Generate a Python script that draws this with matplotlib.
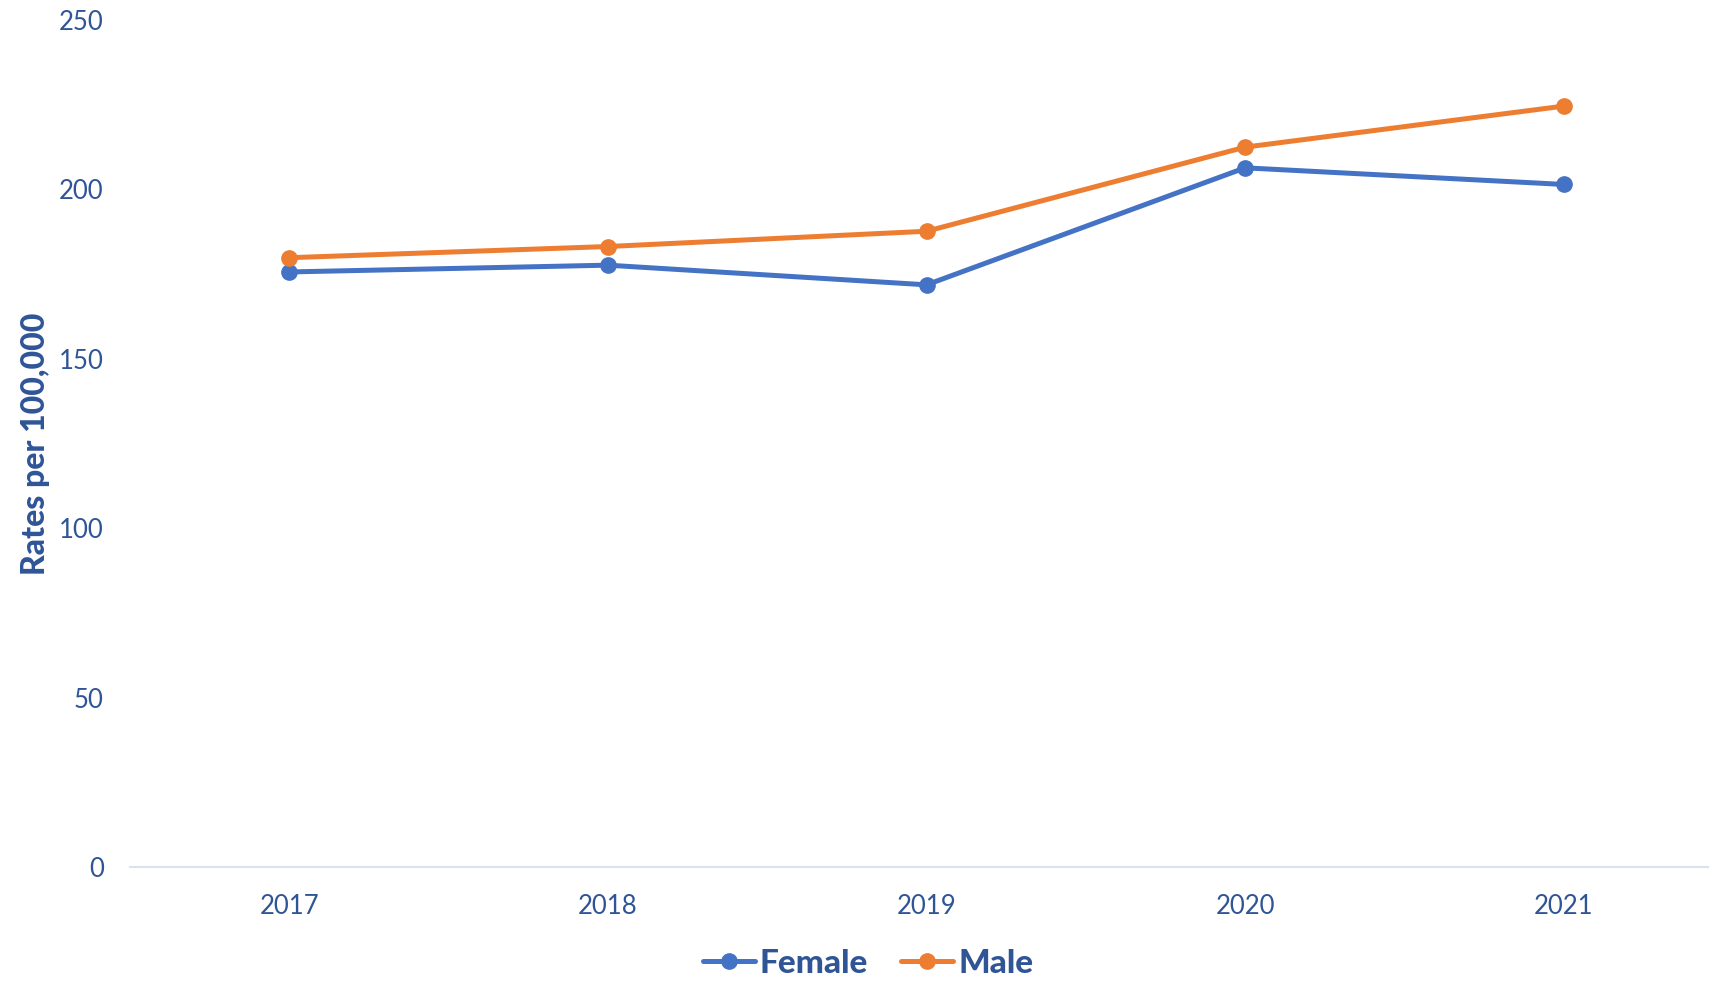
import matplotlib
matplotlib.use("Agg")
import matplotlib.pyplot as plt

# data
years = ["2017", "2018", "2019", "2020", "2021"]
female = [175.6, 177.6, 171.8, 206.3, 201.4]
male = [179.8, 183.1, 187.6, 212.4, 224.5]

text_color = "#2F5597"
plt.rcParams["font.family"] = ["Lato", "DejaVu Sans"]

fig = plt.figure(figsize=(17.09, 9.81), dpi=100)
ax = fig.add_axes([0.0761, 0.1157, 1 - 0.0761, 0.980 - 0.1157])

x = list(range(len(years)))
ax.plot(x, female, color="#4472C4", linewidth=3.6, marker="o", markersize=11,
        label="Female", solid_capstyle="round")
ax.plot(x, male, color="#ED7D31", linewidth=3.6, marker="o", markersize=11,
        label="Male", solid_capstyle="round")

ax.set_xlim(-0.5, 4.456)
ax.set_ylim(0, 250)
ax.set_yticks([0, 50, 100, 150, 200, 250])
ax.set_xticks(x)
ax.set_xticklabels(years)

for side in ["top", "right", "left"]:
    ax.spines[side].set_visible(False)
ax.spines["bottom"].set_color("#D9E1F2")
ax.spines["bottom"].set_linewidth(1.5)
ax.tick_params(axis="both", length=0, labelsize=18.5, colors=text_color)
ax.tick_params(axis="y", pad=19)
ax.tick_params(axis="x", pad=19)

ax.set_ylabel("Rates per 100,000", fontsize=23, fontweight="black", color=text_color)
ax.yaxis.set_label_coords(-0.051, 0.5)

leg = fig.legend(loc="center", bbox_to_anchor=(0.508, 0.018), ncol=2, frameon=False,
                 fontsize=24, handlelength=1.55, handletextpad=0.15, columnspacing=1.0)
for t in leg.get_texts():
    t.set_color(text_color)
    t.set_fontweight("black")

fig.savefig("out.png", dpi=100)
